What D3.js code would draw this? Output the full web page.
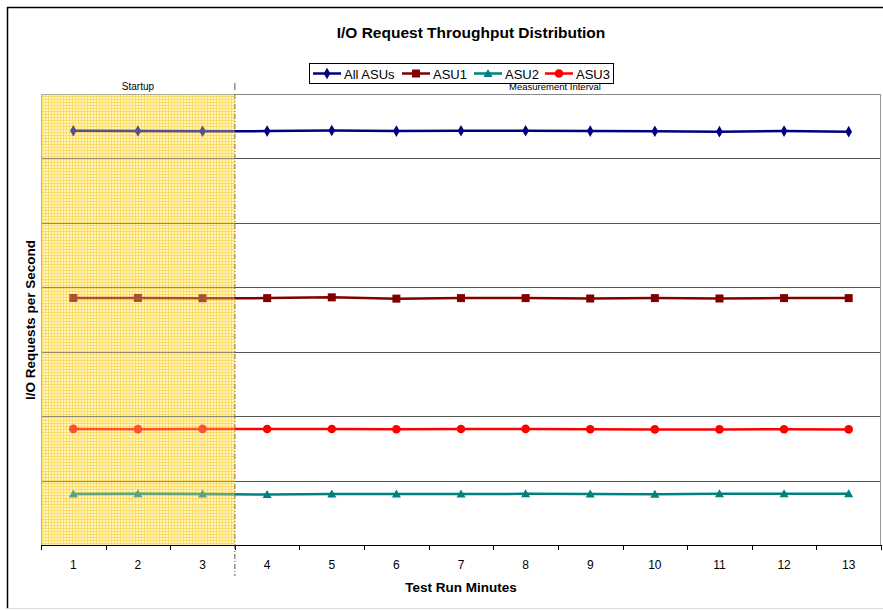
<!DOCTYPE html>
<html><head><meta charset="utf-8">
<script src="https://cdn.jsdelivr.net/npm/d3@7/dist/d3.min.js"></script>
<style>body{margin:0;background:#fff}svg{display:block;font-family:Arial,"Liberation Sans",sans-serif}</style>
</head><body><svg id="c" width="883" height="610"></svg>
<script>
const minutes = ["1","2","3","4","5","6","7","8","9","10","11","12","13"];
const allASUs = [3214,3213,3211,3212,3216,3212,3214,3214,3212,3211,3208,3212,3208];
const asu1    = [1917,1917,1915,1916,1922,1912,1916,1916,1913,1916,1913,1916,1916];
const asu2    = [396,397,395,392,396,396,396,397,396,393,397,397,397];
const asu3    = [901,899,901,900,900,898,900,901,898,897,897,898,897];
const yTicks  = [0,500,1000,1500,2000,2500,3000,3500];
const startupMinutes = 3;

const series = [
  {name:"All ASUs", values:allASUs, color:"#000080", marker:"diamond"},
  {name:"ASU1", values:asu1, color:"#800000", marker:"square"},
  {name:"ASU2", values:asu2, color:"#008080", marker:"triangle"},
  {name:"ASU3", values:asu3, color:"#FF0000", marker:"circle"}
];

const svg = d3.select("#c");
const L=41, R=881, T=94, B=545;
const x = d3.scaleBand().domain(minutes).range([L,R]);
const y = d3.scaleLinear().domain([0,3500]).range([B,T]);

// outer frame
svg.append("line").attr("x1",7.5).attr("x2",7.5).attr("y1",7).attr("y2",609).attr("stroke","#000").attr("stroke-width",1.5);
svg.append("line").attr("x1",7).attr("x2",883).attr("y1",7.5).attr("y2",7.5).attr("stroke","#000").attr("stroke-width",1.5);
svg.append("line").attr("x1",7).attr("x2",883).attr("y1",608.5).attr("y2",608.5).attr("stroke","#ddd");

// pattern for startup region
const defs = svg.append("defs");
const pat = defs.append("pattern").attr("id","hatch").attr("patternUnits","userSpaceOnUse").attr("width",3).attr("height",3);
pat.append("rect").attr("width",3).attr("height",3).attr("fill","#FFF6BE");
pat.append("rect").attr("width",3).attr("height",1).attr("fill","#FDDC6A");
pat.append("rect").attr("width",1).attr("height",3).attr("fill","#FDDC6A");

const xs = x(minutes[startupMinutes]);
svg.append("rect").attr("x",L).attr("y",T).attr("width",xs-L).attr("height",B-T).attr("fill","url(#hatch)");

// grid lines
svg.append("g").selectAll("line").data(yTicks.slice(1,-1)).join("line")
  .attr("x1",L).attr("x2",R).attr("y1",d=>Math.round(y(d))+0.5).attr("y2",d=>Math.round(y(d))+0.5)
  .attr("stroke","#555").attr("stroke-width",1);
// plot border (top, right, left)
svg.append("line").attr("x1",L).attr("x2",R).attr("y1",T+0.5).attr("y2",T+0.5).attr("stroke","#888");
svg.append("line").attr("x1",R-0.5).attr("x2",R-0.5).attr("y1",T).attr("y2",B).attr("stroke","#999");
svg.append("line").attr("x1",L+0.5).attr("x2",L+0.5).attr("y1",T).attr("y2",B).attr("stroke","#999");

// x axis
const xAxis = svg.append("g").attr("transform",`translate(0,${B})`);
xAxis.append("line").attr("x1",L).attr("x2",R).attr("y1",0.5).attr("y2",0.5).attr("stroke","#000");
const bounds = minutes.map(m=>x(m)).concat([R]);
xAxis.selectAll("line.tk").data(bounds).join("line").attr("class","tk")
  .attr("x1",d=>Math.round(d)+0.5).attr("x2",d=>Math.round(d)+0.5).attr("y1",0).attr("y2",5).attr("stroke","#000");
xAxis.selectAll("text").data(minutes).join("text")
  .attr("x",d=>x(d)+x.bandwidth()/2).attr("y",24).attr("text-anchor","middle")
  .attr("font-size",12).attr("fill","#000").text(d=>d);

// startup divider
svg.append("line").attr("x1",xs).attr("x2",xs).attr("y1",T).attr("y2",576)
  .attr("stroke","#555").attr("stroke-width",1).attr("stroke-dasharray","5,2,1,2");
svg.append("line").attr("x1",xs).attr("x2",xs).attr("y1",83).attr("y2",90).attr("stroke","#555");

svg.append("text").attr("x",(L+xs)/2).attr("y",90).attr("text-anchor","middle").attr("font-size",10).text("Startup");
svg.append("text").attr("x",555).attr("y",90).attr("text-anchor","middle").attr("font-size",9.5).text("Measurement Interval");

// markers
function marker(g, type, color, size){
  if(type==="diamond"){
    g.append("path").attr("d",d3.symbol(d3.symbolDiamond,size*3.2)()).attr("fill",color);
  } else if(type==="square"){
    g.append("rect").attr("x",-4).attr("y",-4).attr("width",8).attr("height",8).attr("fill",color);
  } else if(type==="triangle"){
    g.append("path").attr("d","M0,-4.5L4.5,3.5L-4.5,3.5Z").attr("fill",color);
  } else {
    g.append("circle").attr("r",4.3).attr("fill",color);
  }
}

const line = d3.line().x((d,i)=>x(minutes[i])+x.bandwidth()/2).y(d=>y(d));
series.forEach(s=>{
  svg.append("path").datum(s.values).attr("d",line).attr("fill","none").attr("stroke",s.color).attr("stroke-width",2.5);
  s.values.forEach((v,i)=>{
    const g = svg.append("g").attr("transform",`translate(${x(minutes[i])+x.bandwidth()/2},${y(v)})`);
    marker(g, s.marker, s.color, 12);
  });
});
// startup overlay to tint lines inside shaded area
svg.append("rect").attr("x",L).attr("y",T).attr("width",xs-L).attr("height",B-T).attr("fill","url(#hatch)").attr("opacity",0.35);

// legend
const lg = svg.append("g");
lg.append("rect").attr("x",309.5).attr("y",63.5).attr("width",304).attr("height",20).attr("fill","#fff").attr("stroke","#000");
const items = [{s:series[0],x:313,tx:343},{s:series[1],x:402,tx:432},{s:series[2],x:474,tx:504},{s:series[3],x:545,tx:575}];
items.forEach(it=>{
  lg.append("line").attr("x1",it.x).attr("x2",it.x+28).attr("y1",73.5).attr("y2",73.5).attr("stroke",it.s.color).attr("stroke-width",2.5);
  const g = lg.append("g").attr("transform",`translate(${it.x+14},73.5)`);
  marker(g,it.s.marker,it.s.color,12);
  lg.append("text").attr("x",it.tx+1).attr("y",78.5).attr("font-size",13).text(it.s.name);
});

// titles
svg.append("text").attr("x",471).attr("y",38).attr("text-anchor","middle").attr("font-size",15.5).attr("font-weight","bold").text("I/O Request Throughput Distribution");
svg.append("text").attr("x",461).attr("y",592).attr("text-anchor","middle").attr("font-size",13.5).attr("font-weight","bold").text("Test Run Minutes");
svg.append("text").attr("transform","translate(35,320) rotate(-90)").attr("text-anchor","middle").attr("font-size",13.5).attr("font-weight","bold").text("I/O Requests per Second");
</script></body></html>
